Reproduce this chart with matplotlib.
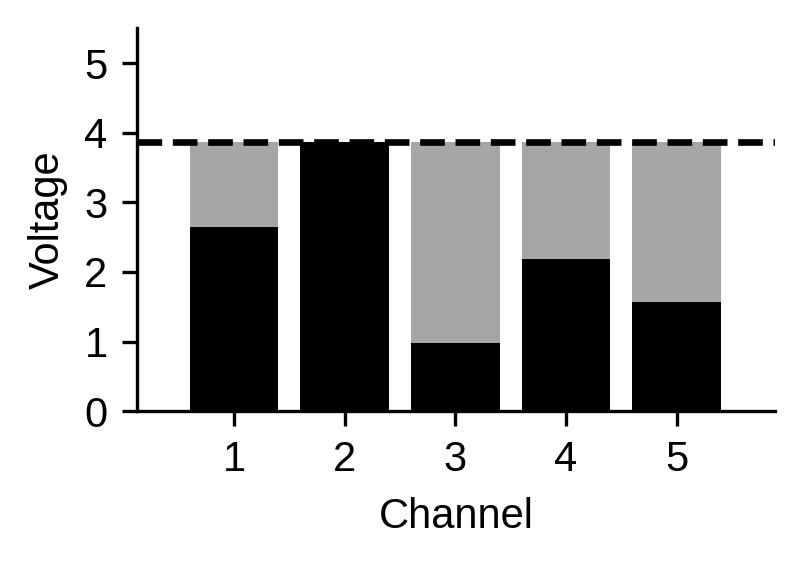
import numpy as np
import matplotlib
matplotlib.use("Agg")
import matplotlib.pyplot as plt

plt.rcParams['font.family'] = ['Liberation Sans', 'DejaVu Sans']
plt.rcParams['font.size'] = 10

channels = [1, 2, 3, 4, 5]
voltage = [2.65, 3.87, 0.98, 2.19, 1.57]
v_max = 3.87

fig = plt.figure(figsize=(2.68, 1.88), dpi=300)
ax = fig.add_axes([0.170, 0.271, 0.794, 0.679])

# gray = remaining headroom up to max, black = measured voltage
ax.bar(channels, [v_max] * len(channels), width=0.8, color='#a6a6a6')
ax.bar(channels, voltage, width=0.8, color='black')
ax.axhline(v_max, color='black', linestyle='--', linewidth=1.6)

ax.set_xlim(0.12, 5.89)
ax.set_ylim(0, 5.5)
ax.set_xticks(channels)
ax.set_yticks([0, 1, 2, 3, 4, 5])
ax.set_xlabel('Channel')
ax.set_ylabel('Voltage')
ax.spines['top'].set_visible(False)
ax.spines['right'].set_visible(False)

fig.savefig('out.png', dpi=300)
